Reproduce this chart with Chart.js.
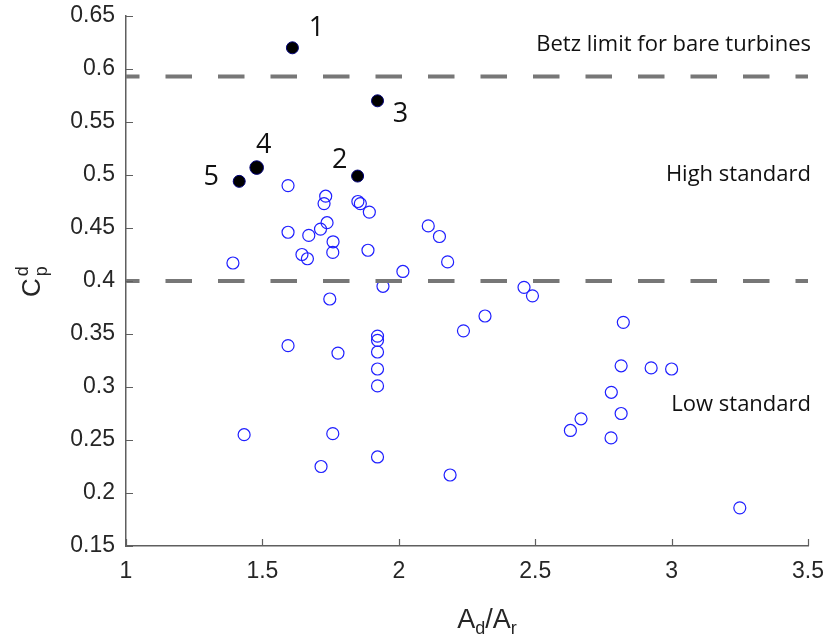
<!DOCTYPE html>
<html>
<head>
<meta charset="utf-8">
<script src="https://cdn.jsdelivr.net/npm/chart.js@4.4.0/dist/chart.umd.min.js"></script>
<style>
  html, body { margin: 0; padding: 0; background: #fff; }
  #wrap { width: 827px; height: 637px; }
</style>
</head>
<body>
<div id="wrap"><canvas id="chart"></canvas></div>
<script>
// axis ticks
const xTicks = [1, 1.5, 2, 2.5, 3, 3.5];
const yTicks = [0.15, 0.2, 0.25, 0.3, 0.35, 0.4, 0.45, 0.5, 0.55, 0.6, 0.65];

// open blue circles: other designs
const openX = [1.594, 1.732, 1.726, 1.850, 1.859, 1.892, 1.594, 1.670, 1.713, 1.737,
               1.759, 1.758, 1.645, 1.665, 1.887, 1.392, 2.108, 2.149, 2.179, 2.015,
               1.942, 1.747, 1.594, 1.777, 1.922, 1.922, 1.922, 1.922, 1.922, 2.237,
               1.433, 1.758, 1.715, 1.922, 2.188, 2.459, 2.490, 2.316, 2.823, 2.815,
               2.925, 3.000, 2.779, 2.815, 2.668, 2.629, 2.778, 3.250];
const openY = [0.490, 0.480, 0.473, 0.475, 0.473, 0.465, 0.446, 0.443, 0.449, 0.455,
               0.437, 0.427, 0.425, 0.421, 0.429, 0.417, 0.452, 0.442, 0.418, 0.409,
               0.395, 0.383, 0.339, 0.332, 0.348, 0.344, 0.333, 0.317, 0.301, 0.353,
               0.255, 0.256, 0.225, 0.234, 0.217, 0.394, 0.386, 0.367, 0.361, 0.320,
               0.318, 0.317, 0.295, 0.275, 0.270, 0.259, 0.252, 0.186];

// numbered black points
const markedIds = ['1', '2', '3', '4', '5'];
const markedX = [1.610, 1.849, 1.922, 1.479, 1.415];
const markedY = [0.620, 0.499, 0.570, 0.507, 0.494];

// reference levels
const limitX = [1, 3.5];
const betzLimit = 0.593;
const highStandard = 0.4;

const regionText = ['Betz limit for bare turbines', 'High standard', 'Low standard'];
const regionY = [0.623, 0.5, 0.283];

// styling bits (not data)
const markedRadius = [6, 6, 6, 6.8, 6];
const idOffsets = { '1': [24, -22], '2': [-18, -18], '3': [23, 11], '4': [7, -24], '5': [-28, -6] };
const AXIS_COLOR = '#5f5f5f';
const TEXT_COLOR = '#262626';
const TICK_FONT = 'Liberation Sans';
const NOTE_FONT = 'Open Sans';

function toPoints(xs, ys) {
    return xs.map((x, i) => ({ x: x, y: ys[i] }));
}

function levelLine(level) {
    return limitX.map((x) => ({ x: x, y: level }));
}

const tickMarks = {
    id: 'tickMarks',
    afterDraw(chart) {
        const ctx = chart.ctx;
        const xs = chart.scales.x;
        const ys = chart.scales.y;
        const area = chart.chartArea;
        ctx.save();
        ctx.strokeStyle = AXIS_COLOR;
        ctx.lineWidth = 1.2;
        ctx.beginPath();
        xTicks.forEach((v) => {
            const px = Math.round(xs.getPixelForValue(v)) + 0.5;
            ctx.moveTo(px, area.bottom);
            ctx.lineTo(px, area.bottom - 7);
        });
        yTicks.forEach((v) => {
            const py = Math.round(ys.getPixelForValue(v)) + 0.5;
            ctx.moveTo(area.left, py);
            ctx.lineTo(area.left + 7, py);
        });
        ctx.stroke();
        ctx.restore();
    }
};

const notes = {
    id: 'notes',
    afterDraw(chart) {
        const ctx = chart.ctx;
        const xs = chart.scales.x;
        const ys = chart.scales.y;
        ctx.save();

        // numbered point labels
        ctx.fillStyle = '#111';
        ctx.font = '27px "' + NOTE_FONT + '"';
        ctx.textAlign = 'center';
        ctx.textBaseline = 'alphabetic';
        markedIds.forEach((id, i) => {
            const px = xs.getPixelForValue(markedX[i]);
            const py = ys.getPixelForValue(markedY[i]);
            const off = idOffsets[id];
            ctx.fillText(id, px + off[0], py + off[1] + 9.8);
        });

        // region texts, right aligned
        ctx.font = '22px "' + NOTE_FONT + '"';
        ctx.textAlign = 'right';
        ctx.textBaseline = 'middle';
        regionText.forEach((t, i) => {
            ctx.fillText(t, xs.getPixelForValue(limitX[1]) + 3, ys.getPixelForValue(regionY[i]));
        });

        // x axis title A_d/A_r
        const area = chart.chartArea;
        const xParts = [['A', 27, 0], ['d', 18, 6], ['/', 27, 0], ['A', 27, 0], ['r', 18, 6]];
        ctx.fillStyle = TEXT_COLOR;
        ctx.textAlign = 'left';
        ctx.textBaseline = 'alphabetic';
        let total = 0;
        xParts.forEach((p) => {
            ctx.font = p[1] + 'px "' + TICK_FONT + '"';
            total += ctx.measureText(p[0]).width;
        });
        let cx = (area.left + area.right) / 2 + 20 - total / 2;
        const baseY = area.bottom + 82;
        xParts.forEach((p) => {
            ctx.font = p[1] + 'px "' + TICK_FONT + '"';
            ctx.fillText(p[0], cx, baseY + p[2]);
            cx += ctx.measureText(p[0]).width;
        });

        // y axis title C_p^d
        ctx.translate(40, (area.top + area.bottom) / 2);
        ctx.rotate(-Math.PI / 2);
        ctx.font = '26px "' + TICK_FONT + '"';
        const cw = ctx.measureText('C').width;
        ctx.fillText('C', -16, 0);
        ctx.font = '18px "' + TICK_FONT + '"';
        ctx.fillText('d', -16 + cw + 2, -12);
        ctx.fillText('p', -16 + cw + 2, 7);
        ctx.restore();
    }
};

const datasets = [
    {
        label: 'Betz limit',
        type: 'line',
        data: levelLine(betzLimit),
        borderColor: '#777777',
        borderWidth: 4,
        borderDash: [26.5, 26],
        borderDashOffset: 13,
        pointRadius: 0,
        order: 0,
    },
    {
        label: 'High standard',
        type: 'line',
        data: levelLine(highStandard),
        borderColor: '#777777',
        borderWidth: 4,
        borderDash: [26.5, 26],
        borderDashOffset: 13,
        pointRadius: 0,
        order: 0,
    },
    {
        label: 'Numbered',
        data: toPoints(markedX, markedY),
        backgroundColor: '#000000',
        borderColor: '#00007a',
        borderWidth: 1,
        pointRadius: markedRadius,
        order: 1,
    },
    {
        label: 'Others',
        data: toPoints(openX, openY),
        backgroundColor: 'rgba(0,0,0,0)',
        borderColor: '#1f1fff',
        borderWidth: 1.2,
        pointRadius: 6,
        order: 2,
    },
];

const ctx = document.getElementById('chart');

new Chart(ctx, {
    type: 'scatter',
    data: { datasets: datasets },
    options: {
        responsive: true,
        maintainAspectRatio: false,
        animation: false,
        devicePixelRatio: 1,
        layout: { padding: { top: 16, right: 19, left: 0, bottom: 0 } },
        plugins: {
            legend: { display: false },
            tooltip: { enabled: false },
        },
        scales: {
            x: {
                type: 'linear',
                min: xTicks[0],
                max: xTicks[xTicks.length - 1],
                afterBuildTicks: (scale) => { scale.ticks = xTicks.map((v) => ({ value: v })); },
                afterFit: (scale) => {
                    scale.height = 91;
                    scale.paddingLeft = 0;
                    scale.paddingRight = 0;
                },
                grid: { display: false, drawTicks: false },
                border: { display: true, color: AXIS_COLOR, width: 1.5 },
                ticks: {
                    color: TEXT_COLOR,
                    font: { family: TICK_FONT, size: 23 },
                    padding: 12,
                    maxRotation: 0,
                    callback: (v) => String(Number(v.toFixed(2))),
                },
            },
            y: {
                type: 'linear',
                min: yTicks[0],
                max: yTicks[yTicks.length - 1],
                afterBuildTicks: (scale) => { scale.ticks = yTicks.map((v) => ({ value: v })); },
                afterFit: (scale) => {
                    scale.width = 126;
                    scale.paddingTop = 0;
                    scale.paddingBottom = 0;
                },
                grid: { display: false, drawTicks: false },
                border: { display: true, color: AXIS_COLOR, width: 1.5 },
                ticks: {
                    color: TEXT_COLOR,
                    font: { family: TICK_FONT, size: 23 },
                    padding: 11,
                    callback: (v) => String(Number(v.toFixed(2))),
                },
            },
        },
    },
    plugins: [tickMarks, notes],
});
</script>
</body>
</html>
